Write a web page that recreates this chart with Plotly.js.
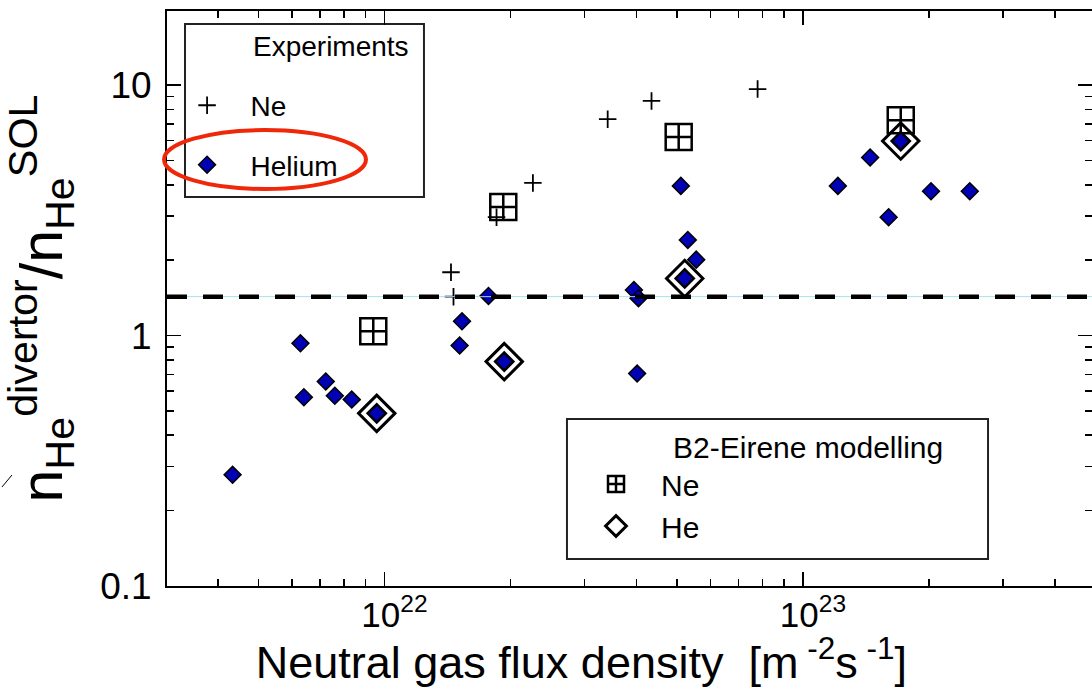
<!DOCTYPE html>
<html><head><meta charset="utf-8">
<script src="https://cdn.plot.ly/plotly-3.0.1.min.js"></script>
<style>html,body{margin:0;padding:0;background:#fff;overflow:hidden}#chart{width:1092px;height:688px}</style>
</head><body><div id="chart"></div>
<script>
// Experimental neon points
const expNeFlux  = [1.44e22, 1.46e22, 1.85e22, 2.26e22, 3.41e22, 4.34e22, 7.78e22];
const expNeRatio = [1.79, 1.43, 2.97, 4.07, 7.31, 8.65, 9.64];
// Experimental helium points
const expHeFlux  = [4.33e21, 6.29e21, 6.41e21, 7.23e21, 7.6e21, 8.34e21, 1.51e22, 1.53e22, 1.77e22,
                    3.94e22, 4.04e22, 4.01e22, 5.1e22, 5.3e22, 5.55e22, 1.21e23, 1.445e23, 1.6e23, 2.02e23, 2.5e23];
const expHeRatio = [0.278, 0.932, 0.567, 0.656, 0.575, 0.555, 0.912, 1.14, 1.44,
                    1.52, 1.41, 0.705, 3.96, 2.41, 2.01, 3.96, 5.14, 2.97, 3.77, 3.77];
// B2-Eirene modelling
const modelNeFlux  = [9.39e21, 1.92e22, 5.04e22, 1.71e23];
const modelNeRatio = [1.04, 3.26, 6.21, 7.24];
const modelHeFlux  = [9.57e21, 1.93e22, 5.21e22, 1.71e23];
const modelHeRatio = [0.489, 0.787, 1.69, 5.98];
// reference level
const thresholdRatio = 1.43;
// ticks
const xTickVals = [1e22, 1e23];
const xTickText = ['\u00a0\u00a010<sup>22</sup>', '\u00a0\u00a010<sup>23</sup>'];
const yTickVals = [0.1, 1, 10];
const yTickText = ['0.1', '1', '10'];

const BLUE = '#0000b4';
const nb = '\u00a0';
const traces = [
  {x: expNeFlux, y: expNeRatio, type:'scatter', mode:'markers', name: nb.repeat(3) + 'Ne', legend:'legend', legendgroup:'a',
   marker:{symbol:'cross-thin', size:12.5, color:'black', line:{color:'black', width:1.8}}},
  {x: expHeFlux, y: expHeRatio, type:'scatter', mode:'markers', name: nb.repeat(3) + 'Helium', legend:'legend', legendgroup:'b',
   marker:{symbol:'diamond', size:13, color:BLUE, line:{color:'black', width:1.5}}},
  {x: modelNeFlux, y: modelNeRatio, type:'scatter', mode:'markers', name: nb.repeat(3) + 'Ne', legend:'legend2', legendgroup:'c',
   marker:{symbol:'square-cross-open', size:26, color:'black', line:{color:'black', width:2.5}}},
  {x: modelHeFlux, y: modelHeRatio, type:'scatter', mode:'markers', name: nb.repeat(3) + 'He', legend:'legend2', legendgroup:'d',
   marker:{symbol:'diamond-open', size:28, color:'black', line:{color:'black', width:3}}},
  {x: modelHeFlux, y: modelHeRatio, type:'scatter', mode:'markers', name:'He', showlegend:false, legendgroup:'d',
   marker:{symbol:'diamond', size:14, color:BLUE, line:{color:'black', width:2.5}}}
];

const axCommon = {
  type:'log', showline:true, linecolor:'black', linewidth:2, mirror:'ticks',
  ticks:'inside', ticklen:14, tickwidth:1.5, tickcolor:'black',
  showgrid:false, zeroline:false, automargin:false,
  tickmode:'array',
  minor:{ticks:'inside', ticklen:7, tickwidth:1.5, tickcolor:'black', dtick:'D1', showgrid:false}
};

const layout = {
  width:1092, height:688,
  margin:{l:167, r:0, t:11, b:102, pad:0},
  paper_bgcolor:'white', plot_bgcolor:'white',
  font:{family:'"Liberation Sans", Arial, Helvetica, sans-serif', color:'black'},
  showlegend:true,
  xaxis: Object.assign({}, axCommon, {
    range:[21.4798, 23.690], tickvals:xTickVals, ticktext:xTickText, tickfont:{size:35, color:'black'},
    ticklabelstandoff:-3,
    title:{text:'Neutral gas flux density' + nb + nb + '[m<sup> -2</sup>s<sup> -1</sup>]<sup>' + nb.repeat(11) + '</sup>',
           font:{size:45}, standoff:9}
  }),
  yaxis: Object.assign({}, axCommon, {
    range:[-1, 1.296], tickvals:yTickVals, ticktext:yTickText, tickfont:{size:37, color:'black'},
    ticklabelstandoff:6,
    title:{text:'n<sub>He</sub><sup>divertor</sup>/n<sub>He</sub><sup>SOL</sup>', font:{size:59}, standoff:30}
  }),
  legend:{x:0.0217, y:0.879, xanchor:'left', yanchor:'top', bgcolor:'rgba(0,0,0,0)', borderwidth:0,
    font:{size:28}, itemsizing:'trace', tracegroupgap:20},
  legend2:{x:0.4638, y:0.2904, xanchor:'left', yanchor:'top', bgcolor:'rgba(0,0,0,0)', borderwidth:0,
    font:{size:30}, itemsizing:'trace', tracegroupgap:0,
    title:{text: nb.repeat(9) + 'B2-Eirene modelling', font:{size:30}}},
  annotations:[
    {text:'Experiments', xref:'paper', yref:'paper', x:0.1778, y:0.9391, xanchor:'center', yanchor:'middle',
     showarrow:false, font:{size:28, color:'black'}}
  ],
  shapes:[
    {type:'line', xref:'paper', x0:0, x1:1, yref:'y', y0:thresholdRatio, y1:thresholdRatio,
     line:{color:'#a8dcef', width:1}, layer:'above'},
    {type:'line', xref:'paper', x0:0, x1:1, yref:'y', y0:thresholdRatio, y1:thresholdRatio,
     line:{color:'black', width:4.5, dash:'20px,16px'}, layer:'above'},
    {type:'rect', xref:'paper', yref:'paper', x0:0.01946, x1:0.2778, y0:0.6765, y1:0.9774,
     line:{color:'#222', width:2}, fillcolor:'rgba(0,0,0,0)', layer:'below'},
    {type:'rect', xref:'paper', yref:'paper', x0:0.4324, x1:0.8876, y0:0.04696, y1:0.2904,
     line:{color:'#222', width:2}, fillcolor:'rgba(0,0,0,0)', layer:'below'},
    {type:'circle', xref:'paper', yref:'paper', x0:-0.0032, x1:0.2151, y0:0.6904, y1:0.793,
     line:{color:'#f0280a', width:4}, fillcolor:'rgba(0,0,0,0)', layer:'above'},
    {type:'line', xref:'paper', yref:'paper', x0:-0.1784, x1:-0.1676, y0:0.1722, y1:0.193,
     line:{color:'black', width:1}}
  ]
};

Plotly.newPlot('chart', traces, layout, {displayModeBar:false, staticPlot:true});
</script>
</body></html>
